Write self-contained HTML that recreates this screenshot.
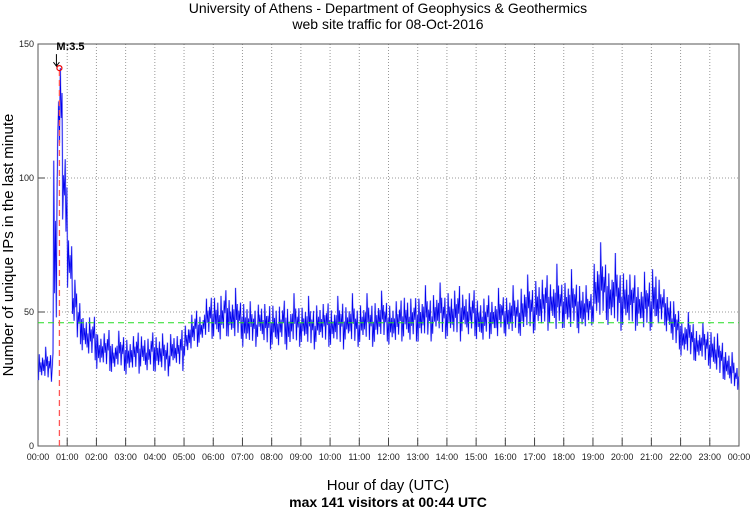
<!DOCTYPE html>
<html><head><meta charset="utf-8"><style>
html,body{margin:0;padding:0;background:#fff;}
svg{display:block;font-family:"Liberation Sans",sans-serif;}
</style></head><body>
<svg id="chart" width="750" height="511" viewBox="0 0 750 511">
<text x="388" y="13" font-size="14" text-anchor="middle">University of Athens - Department of Geophysics &amp; Geothermics</text>
<text x="388" y="29" font-size="14" text-anchor="middle">web site traffic for 08-Oct-2016</text>
<text transform="translate(13,245) rotate(-90)" font-size="15" text-anchor="middle">Number of unique IPs in the last minute</text>
<text x="388" y="490" font-size="15" text-anchor="middle">Hour of day (UTC)</text>
<text x="388" y="507" font-size="14" font-weight="bold" text-anchor="middle">max 141 visitors at 00:44 UTC</text>
<g id="grid"></g><g id="axes"></g><g id="series"></g><g id="marks"></g>
</svg>
<script>
const yTicks=[0,50,100,150];
const hourLabels=["00:00","01:00","02:00","03:00","04:00","05:00","06:00","07:00","08:00","09:00","10:00","11:00","12:00","13:00","14:00","15:00","16:00","17:00","18:00","19:00","20:00","21:00","22:00","23:00","00:00"];
const binLow=[24,25,24,30,110,80, 58,45,38,35,33,32, 28,30,28,27,29,28, 26,28,27,29,27,28, 27,28,26,29,30,28, 33,35,37,38,40,40,
40,38,41,40,39,40, 36,38,37,40,38,36, 37,36,38,35,38,37, 38,37,36,38,39,37, 37,38,36,39,38,37, 38,39,37,38,40,39,
37,38,39,40,38,39, 38,40,39,41,42,40, 40,41,39,42,40,41, 39,38,40,41,39,42, 40,41,42,40,43,42, 42,44,43,45,41,44,
43,42,44,41,43,45, 45,46,47,44,45,43, 44,45,43,44,42,43, 43,44,45,42,38,36, 33,34,32,31,32,30, 28,27,25,24,22,21];
const binHigh=[36,37,35,120,141,110, 80,62,55,50,48,50, 44,42,45,40,43,42, 42,41,44,43,40,44, 43,42,40,44,41,45, 47,49,52,50,55,57,
58,56,60,57,59,55, 56,54,52,55,53,54, 55,52,56,54,57,53, 54,56,52,55,53,55, 53,56,55,54,57,52, 55,57,54,56,58,55,
55,54,56,58,55,57, 58,60,56,59,61,57, 60,58,62,59,57,60, 57,55,58,56,59,57, 58,60,56,62,64,60, 65,62,66,63,68,62,
64,66,62,63,60,58, 72,76,70,68,72,66, 68,64,66,62,65,63, 70,62,60,58,54,52, 48,50,47,45,46,44, 45,42,40,37,35,30];
const peakMinute=44, peakValue=141, meanValue=46;
const NS="http://www.w3.org/2000/svg";
const L=38,R=739,T=44,B=446;
const xs=m=>L+(m/1440)*(R-L);
const ys=v=>B-(v/150)*(B-T);
function mk(tag,attrs,parent){const e=document.createElementNS(NS,tag);for(const k in attrs)e.setAttribute(k,attrs[k]);parent.appendChild(e);return e;}
const grid=document.getElementById('grid'),axes=document.getElementById('axes'),series=document.getElementById('series'),marks=document.getElementById('marks');
hourLabels.forEach((lab,i)=>{const x=xs(i*60);
 if(i>0&&i<24){const g=mk('line',{x1:x,x2:x,y1:T,y2:B,stroke:'#999','stroke-dasharray':'1,2','stroke-width':1},grid);
 
 
 const t=mk('line',{x1:x,x2:x,y1:B,y2:B-8,stroke:'#444'},axes);
 
 }
 const tx=mk('text',{x:x,y:B+14,'font-size':9,'text-anchor':'middle',fill:'#222'},axes);tx.textContent=lab;
 
 
});
yTicks.forEach(v=>{const y=ys(v);
 if(v>0){const g=mk('line',{x1:L,x2:R,y1:y,y2:y,stroke:'#999','stroke-dasharray':'1,2'},grid);
 
 
 const t=mk('line',{x1:L,x2:L+7,y1:y,y2:y,stroke:'#444'},axes);
 
 }
 const tx=mk('text',{x:L-4,y:y+3,'font-size':9,'text-anchor':'end',fill:'#222'},axes);tx.textContent=v;
 
 
});
const frame=mk('rect',{x:L,y:T,width:R-L,height:B-T,fill:'none',stroke:'#555'},axes);


const shapes=[[0.05,0.85,0.3,0.6,0.2,0.75],[0.25,0.6,0.1,1.0,0.4,0.7],[0.15,0.7,0.45,0.9,0.0,0.55]];
let pts=[];
binLow.forEach((lo,i)=>{const hi=binHigh[i],t=i*10,s=shapes[i%3];
 s.forEach((f,k)=>pts.push([t+0.8+k*1.7,lo+(hi-lo)*f]));});
const d=pts.map((p,i)=>(i?'L':'M')+xs(p[0]).toFixed(1)+','+ys(p[1]).toFixed(1)).join('');
const bg=mk('path',{d:d,fill:'none',stroke:'#8888ff','stroke-width':1.8,opacity:0.55},series);


const ln=mk('path',{d:d,fill:'none',stroke:'#0000ee','stroke-width':0.7},series);


const mean=mk('line',{x1:L,x2:R,y1:ys(meanValue),y2:ys(meanValue),stroke:'#22dd22','stroke-dasharray':'6,4'},marks);


const px=xs(peakMinute),py=ys(peakValue);
const pl=mk('line',{x1:px,x2:px,y1:B,y2:py,stroke:'#ff5555','stroke-dasharray':'6,4','stroke-width':1.3},marks);


const pc=mk('circle',{cx:px,cy:py,r:2.5,fill:'none',stroke:'#e00','stroke-width':1.2},marks);


const ar=mk('path',{d:`M${px-3},${py-14}L${px-3},${py-2}M${px-6},${py-6}L${px-3},${py-2}L${px},${py-6}`,stroke:'#000',fill:'none'},marks);


const pt=mk('text',{x:px-3,y:py-18,'font-size':11,'font-weight':'bold'},marks);pt.textContent='M:3.5';


</script>
</body></html>
